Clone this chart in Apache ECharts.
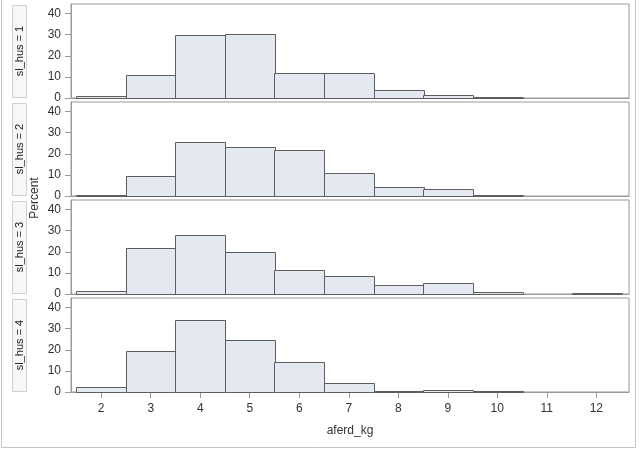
<!DOCTYPE html>
<html>
<head>
<meta charset="utf-8">
<script src="https://cdn.jsdelivr.net/npm/echarts@6/dist/echarts.min.js"></script>
<style>html,body{margin:0;padding:0;background:#fff;}#c{width:640px;height:450px;}</style>
</head>
<body>
<div id="c"></div>
<script>
// Bin midpoints (aferd_kg)
const categories = [2, 3, 4, 5, 6, 7, 8, 9, 10, 11, 12];
// Percent per bin, one array per panel
const hus1 = [1.0, 11.1, 29.6, 30.2, 11.7, 11.7, 3.6, 1.6, 0.5, 0, 0];
const hus2 = [0.5, 9.6, 25.5, 23.3, 21.9, 10.7, 4.4, 3.5, 0.5, 0, 0];
const hus3 = [1.2, 21.8, 28.0, 20.0, 11.5, 8.3, 4.1, 5.0, 1.1, 0, 0.7];
const hus4 = [2.2, 19.6, 34.2, 24.6, 14.1, 4.1, 0.6, 1.1, 0.5, 0, 0];
const panelLabels = ['sl_hus = 1', 'sl_hus = 2', 'sl_hus = 3', 'sl_hus = 4'];
const yTicks = [0, 10, 20, 30, 40];
const xTicks = [2, 3, 4, 5, 6, 7, 8, 9, 10, 11, 12];
const xTitle = 'aferd_kg';
const yTitle = 'Percent';

const panels = [hus1, hus2, hus3, hus4];
const FONT = '"Liberation Sans", Arial, sans-serif';
const tops = [4, 102, 200, 298];
const H = 94;
const frameColor = '#9a9a9a';

const grids = [], xAxes = [], yAxes = [], series = [], graphics = [];
panels.forEach((vals, i) => {
  grids.push({left: 71, width: 558, top: tops[i], height: H, show: true,
    borderColor: frameColor, borderWidth: 1, backgroundColor: '#fff'});
  const last = i === panels.length - 1;
  xAxes.push({
    type: 'value', gridIndex: i, min: 1.39, max: 12.66,
    splitLine: {show: false},
    axisLine: {show: true, lineStyle: {color: frameColor}},
    axisTick: {show: last, length: 6, customValues: xTicks, lineStyle: {color: frameColor}},
    axisLabel: {show: last, customValues: xTicks, color: '#333', fontFamily: FONT, fontSize: 12, margin: 11},
    name: last ? xTitle : '', nameLocation: 'middle', nameGap: 33,
    nameTextStyle: {color: '#333', fontFamily: FONT, fontSize: 12}
  });
  yAxes.push({
    type: 'value', gridIndex: i, min: 0, max: 44.5,
    splitLine: {show: false},
    axisLine: {show: true, lineStyle: {color: frameColor}},
    axisTick: {show: true, length: 6, customValues: yTicks, lineStyle: {color: frameColor}},
    axisLabel: {customValues: yTicks, color: '#333', fontFamily: FONT, fontSize: 12, margin: 10}
  });
  series.push({
    type: 'custom', xAxisIndex: i, yAxisIndex: i,
    data: categories.map((c, k) => [c, vals[k]]),
    renderItem: function (params, api) {
      const x = api.value(0), v = api.value(1);
      if (!v) return null;
      const p0 = api.coord([x - 0.5, v]);
      const p1 = api.coord([x + 0.5, 0]);
      return {type: 'rect',
        shape: {x: Math.round(p0[0]) + 0.5, y: Math.round(p0[1]) + 0.5,
                width: Math.round(p1[0] - p0[0]), height: Math.round(p1[1]) - Math.round(p0[1])},
        style: {fill: '#e3e8f1', stroke: '#5e5e5e', lineWidth: 1}};
    }
  });
  // strip label box
  graphics.push({type: 'rect', shape: {x: 12.5, y: tops[i] + 1.5, width: 14, height: H - 2},
    style: {fill: '#f7f7f9', stroke: '#cfcfcf', lineWidth: 1}, z: 10});
  graphics.push({type: 'text', x: 19.5, y: tops[i] + H / 2, rotation: Math.PI / 2,
    style: {text: panelLabels[i], fill: '#222', font: '11px ' + FONT, align: 'center', verticalAlign: 'middle'}, z: 11});
});

graphics.push({type: 'text', x: 35, y: 198, rotation: Math.PI / 2,
  style: {text: yTitle, fill: '#333', font: '12px ' + FONT, align: 'center', verticalAlign: 'middle'}, z: 11});
// outer border (left, right, bottom)
graphics.push({type: 'polyline', shape: {points: [[1.5, 0], [1.5, 447.5], [635.5, 447.5], [635.5, 0]]},
  style: {stroke: '#c4c4c4', lineWidth: 1, fill: null}, z: 5});

const chart = echarts.init(document.getElementById('c'), null, {renderer: 'canvas'});
chart.setOption({
  animation: false,
  backgroundColor: '#fff',
  grid: grids, xAxis: xAxes, yAxis: yAxes, series: series, graphic: graphics
});
</script>
</body>
</html>
